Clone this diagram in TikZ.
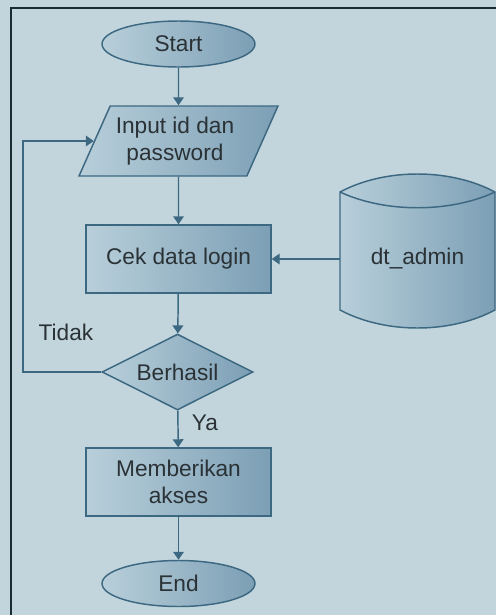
\documentclass[tikz,border=0pt]{standalone}
\usepackage{fontspec}
\setmainfont{Liberation Sans}
\usetikzlibrary{shapes.geometric,arrows.meta}
\definecolor{bgblue}{HTML}{C3D5DC}
\definecolor{edgeblue}{HTML}{3D6882}
\definecolor{lightfill}{HTML}{B8CFDA}
\definecolor{darkfill}{HTML}{7C9FB5}
\definecolor{txtgray}{HTML}{2A3236}
\definecolor{framedark}{HTML}{1C2A31}

\begin{document}
\begin{tikzpicture}[x=0.75pt,y=-0.75pt,
  box/.style={draw=edgeblue,line width=1.1pt,left color=lightfill,right color=darkfill,text=txtgray,inner sep=0pt,align=center,font=\fontsize{17}{20}\selectfont},
  term/.style={box,ellipse,minimum width=114.75pt,minimum height=34.5pt},
  proc/.style={box,rectangle,minimum width=138.75pt,minimum height=51pt},
  io/.style={box,trapezium,inner xsep=0pt,inner ysep=26.25pt,trapezium left angle=66,trapezium right angle=114},
  decide/.style={box,diamond,aspect=2,minimum width=113.25pt,minimum height=57pt},
  flow/.style={draw=edgeblue,line width=1.1pt,-{Triangle[width=8pt,length=6pt]}},
  lbl/.style={text=txtgray,align=center,font=\fontsize{17}{20}\selectfont}]
  \fill[bgblue] (0,0) rectangle (496,615);
  \useasboundingbox (0,0) rectangle (496,615);
  \draw[framedark,line width=1.5pt] (11,615) -- (11,8) -- (496,8);
  % database
  \path[draw=edgeblue,line width=1.1pt,left color=lightfill,right color=darkfill] (340,192) .. controls (385,168) and (450,168) .. (495,192) -- (495,310) .. controls (450,334) and (385,334) .. (340,310) -- cycle;
  \draw[edgeblue,line width=1.1pt] (340,192) .. controls (385,213) and (450,213) .. (495,192);
  \node[lbl,minimum width=116.25pt,inner sep=0pt] (admin) at (417.5,259) {dt\_admin};
  % flow
  \node[term] (start) at (178.5,44) {Start};
  \node[io] (input) at (178.5,141) {\rule{102.5pt}{0pt}};
  \node[lbl] (inputtext) at (175,141) {Input id dan\\password};
  \node[proc] (cek) at (178.5,259) {Cek data login};
  \node[decide] (berhasil) at (177.5,372) {Berhasil};
  \node[proc] (akses) at (178.5,482) {Memberikan\\akses};
  \node[term] (end) at (178.5,583.5) {End};
  \node[lbl] (tidak) at (66,332) {Tidak};
  \node[lbl] (ya) at (205,423) {Ya};
  \coordinate (balik) at (23,372);
  \draw[flow] (start) -- (input);
  \draw[flow] (input) -- (cek);
  \draw[flow] (admin.west) -- (cek.east);
  \draw[flow] (cek) -- (berhasil);
  \draw[flow] (berhasil) -- (akses);
  \draw[flow] (akses) -- (end);
  \draw[flow] (berhasil.west) -- (balik) |- (input);
\end{tikzpicture}
\end{document}
